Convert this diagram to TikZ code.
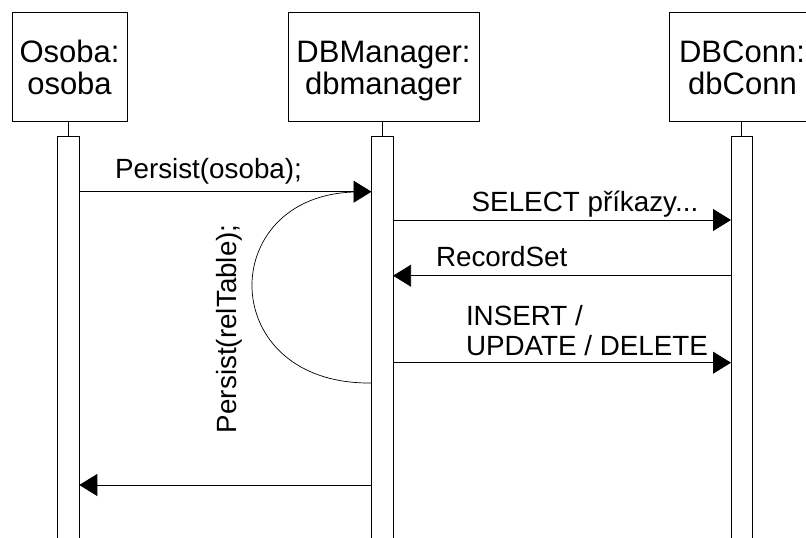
\documentclass[tikz,border=0pt]{standalone}
\usepackage{fontspec}
\setmainfont{Liberation Sans}
\usetikzlibrary{arrows.meta}
\begin{document}
\begin{tikzpicture}[x=1pt,y=-1pt,
  every node/.style={inner sep=0pt, outer sep=0pt},
  objbox/.style={draw, line width=0.9pt, minimum height=109pt},
  bar/.style={draw, line width=0.9pt, fill=white, minimum width=21.6pt, minimum height=410pt},
  boxtxt/.style={font=\fontsize{31}{33}\selectfont, anchor=base},
  msgtxt/.style={font=\fontsize{27.8}{30}\selectfont, anchor=base west},
  msg/.style={line width=0.8pt, -{Triangle[length=18pt,width=22pt]}},
  life/.style={line width=0.9pt}]
\useasboundingbox (0,0) rectangle (806,538);
\clip (0,0) rectangle (806,538);
% object boxes
\node[objbox, minimum width=115pt] (b1) at (69.5,67.3) {};
\node[objbox, minimum width=191pt] (b2) at (383.5,67.3) {};
\node[objbox, minimum width=147pt] (b3) at (742.5,67.3) {};
\node[boxtxt] (t1a) at (69.5,62) {Osoba:};
\node[boxtxt] (t1b) at (69.5,94) {osoba};
\node[boxtxt] (t2a) at (383.5,62) {DBManager:};
\node[boxtxt] (t2b) at (383.5,94) {dbmanager};
\node[boxtxt] (t3a) at (742,62) {DBConn:};
\node[boxtxt] (t3b) at (742.5,94) {dbConn};
% activation bars
\node[bar] (a1) at (68.5,341) {};
\node[bar] (a2) at (382.3,341) {};
\node[bar] (a3) at (741.8,341) {};
\draw[life] (a1.north) -- (a1.north |- b1.south);
\draw[life] (a2.north) -- (a2.north |- b2.south);
\draw[life] (a3.north) -- (a3.north |- b3.south);
% message levels
\coordinate (m1) at (0,191.7);
\coordinate (m2) at (0,220);
\coordinate (m3) at (0,275.7);
\coordinate (m4) at (0,362.7);
\coordinate (m5) at (0,485);
\coordinate (c1) at (0,383);
\coordinate (sc) at (355,192);
% messages
\draw[msg] (a1.east |- m1) -- (a2.west |- m1);
\node[msgtxt] (l1) at (115,178) {Persist(osoba);};
\draw[msg] (a2.east |- m2) -- (a3.west |- m2);
\node[msgtxt] (l2) at (471.7,211.7) {SELECT příkazy...};
\draw[msg] (a3.west |- m3) -- (a2.east |- m3);
\node[msgtxt] (l3) at (436,266) {RecordSet};
\draw[msg] (a2.east |- m4) -- (a3.west |- m4);
\node[msgtxt] (l4a) at (466,325) {INSERT /};
\node[msgtxt] (l4b) at (466,355) {UPDATE / DELETE};
\draw[msg] (a2.west |- m5) -- (a1.east |- m5);
% self call
\draw[line width=0.7pt] (a2.west |- c1) .. controls (215,385) and (215,195) .. (sc);
\node[font=\fontsize{27.8}{30}\selectfont, rotate=90, anchor=base west] (l6) at (236,433) {Persist(relTable);};
\end{tikzpicture}
\end{document}
